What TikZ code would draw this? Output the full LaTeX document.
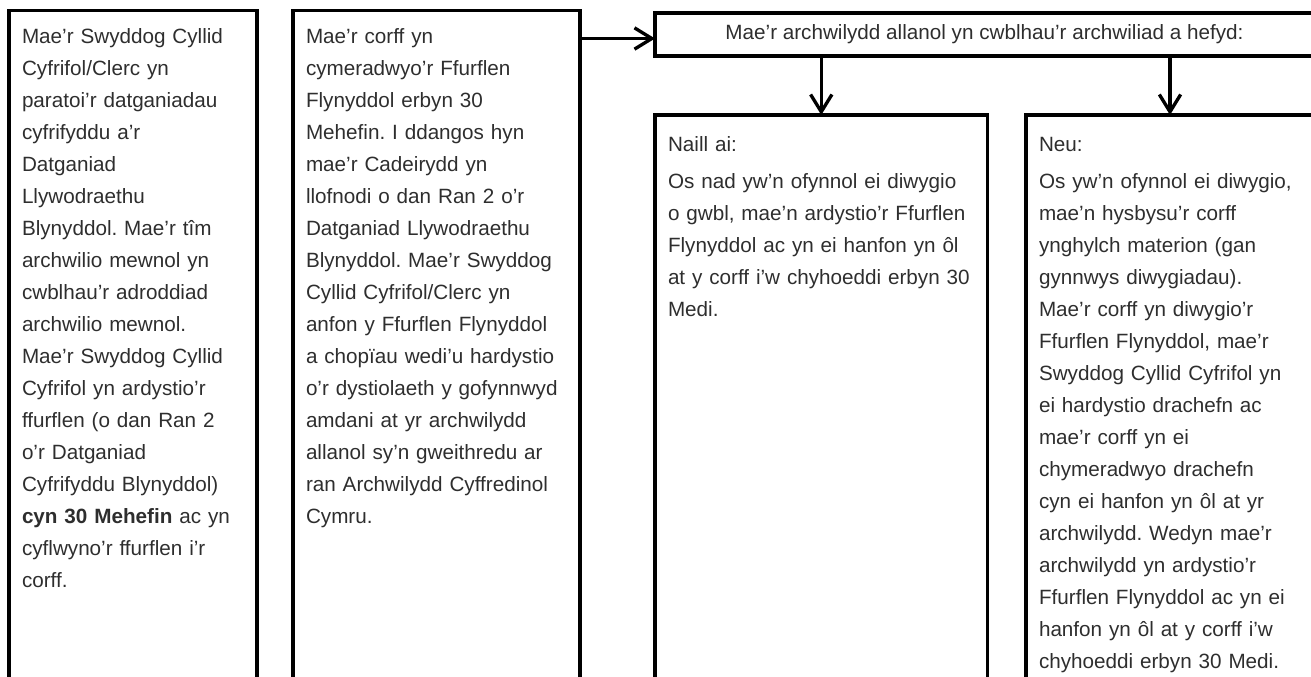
\documentclass[tikz,border=0pt]{standalone}
\usepackage{fontspec}
\setmainfont{Liberation Sans}
\frenchspacing
\usetikzlibrary{arrows.meta}

\tikzset{
    box/.style={draw, line width=2.6pt, anchor=north west, align=left, outer sep=0pt,
        inner xsep=9.75pt, inner ysep=13.4pt, text height=11pt, text depth=520pt,
        font=\fontsize{15.5}{24}\selectfont, text=black!82},
    lowbox/.style={box, inner ysep=16.4pt},
    headbox/.style={draw, line width=2.3pt, anchor=north west, outer sep=0pt,
        minimum width=494.25pt, minimum height=32.25pt, inner sep=0pt,
        font=\fontsize{15.5}{24}\selectfont, text=black!82},
    arr/.style={line width=2.5pt, -{Straight Barb[length=13pt,width=16pt]}}
}

\begin{document}
\begin{tikzpicture}
    \useasboundingbox (0,0) rectangle (983.25pt,-507.75pt);
    \clip (0,0) rectangle (983.25pt,-507.75pt);

    \node[box, text width=166.5pt] (prep) at (6.75pt,-7.875pt) {Mae’r Swyddog Cyllid\\
        Cyfrifol/Clerc yn\\ paratoi’r datganiadau\\ cyfrifyddu a’r\\ Datganiad\\
        Llywodraethu\\ Blynyddol. Mae’r tîm\\ archwilio mewnol yn\\ cwblhau’r adroddiad\\
        archwilio mewnol.\\ Mae’r Swyddog Cyllid\\ Cyfrifol yn ardystio’r\\
        ffurflen (o dan Ran 2\\ o’r Datganiad\\ Cyfrifyddu Blynyddol)\\
        \textbf{cyn 30 Mehefin} ac yn\\ cyflwyno’r ffurflen i’r\\ corff.};

    \node[box, text width=195.75pt] (approve) at (219.75pt,-7.875pt) {Mae’r corff yn\\
        cymeradwyo’r Ffurflen\\ Flynyddol erbyn 30\\ Mehefin. I ddangos hyn\\
        mae’r Cadeirydd yn\\ llofnodi o dan Ran 2 o’r\\ Datganiad Llywodraethu\\
        Blynyddol. Mae’r Swyddog\\ Cyllid Cyfrifol/Clerc yn\\ anfon y Ffurflen Flynyddol\\
        a chopïau wedi’u hardystio\\ o’r dystiolaeth y gofynnwyd\\ amdani at yr archwilydd\\
        allanol sy’n gweithredu ar\\ ran Archwilydd Cyffredinol\\ Cymru.};

    \node[headbox] (audit) at (491.25pt,-9.75pt)
        {Mae’r archwilydd allanol yn cwblhau’r archwiliad a hefyd:};

    \node[lowbox, text width=229.9pt] (either) at (491.25pt,-86.25pt) {Naill ai:\\[3.5pt]
        Os nad yw’n ofynnol ei diwygio\\ o gwbl, mae’n ardystio’r Ffurflen\\
        Flynyddol ac yn ei hanfon yn ôl\\ at y corff i’w chyhoeddi erbyn 30\\ Medi.};

    \node[lowbox, text width=196.5pt] (or) at (769.5pt,-86.25pt) {Neu:\\[3.5pt]
        Os yw’n ofynnol ei diwygio,\\ mae’n hysbysu’r corff\\ ynghylch materion (gan\\
        gynnwys diwygiadau).\\ Mae’r corff yn diwygio’r\\ Ffurflen Flynyddol, mae’r\\
        Swyddog Cyllid Cyfrifol yn\\ ei hardystio drachefn ac\\ mae’r corff yn ei\\
        chymeradwyo drachefn\\ cyn ei hanfon yn ôl at yr\\ archwilydd. Wedyn mae’r\\
        archwilydd yn ardystio’r\\ Ffurflen Flynyddol ac yn ei\\ hanfon yn ôl at y corff i’w\\
        chyhoeddi erbyn 30 Medi.};

    \coordinate (in) at ([yshift=-3pt]audit.west);
    \draw[arr] (in -| approve.east) -- (in);
    \draw[arr] (audit.south -| either.north) -- (either.north);
    \draw[arr] (audit.south -| or.north) -- (or.north);
\end{tikzpicture}
\end{document}
